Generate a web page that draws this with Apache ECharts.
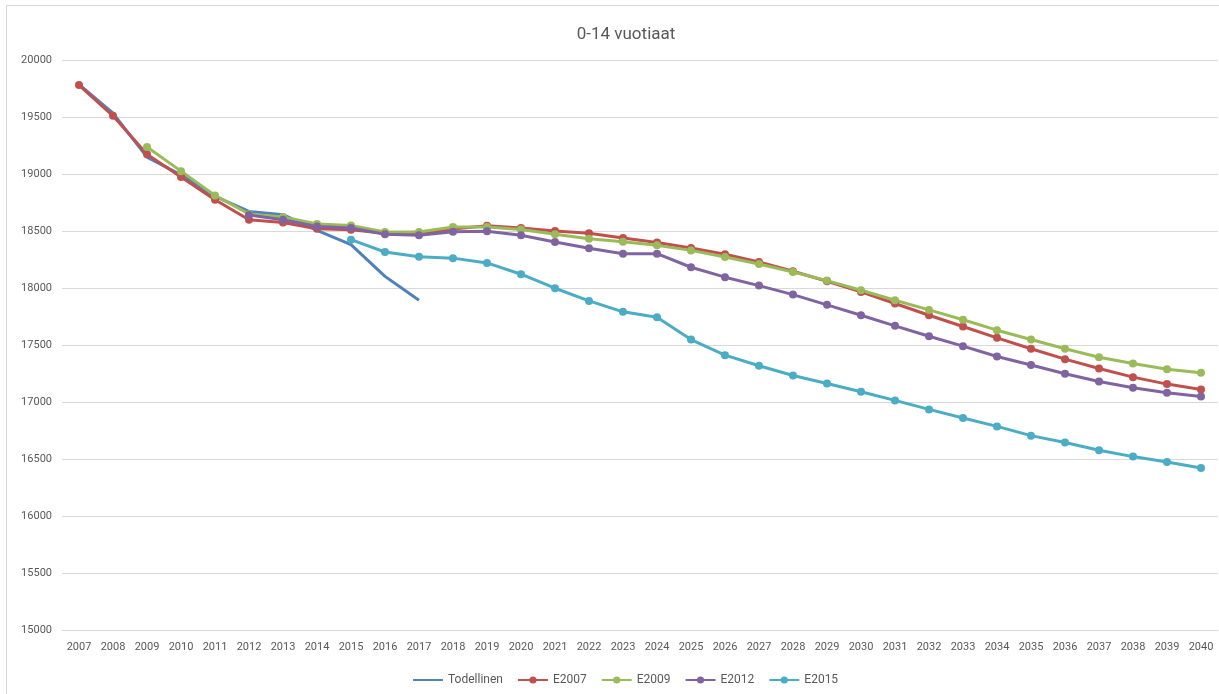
<!DOCTYPE html>
<html>
<head>
<meta charset="utf-8">
<script src="https://cdn.jsdelivr.net/npm/echarts@6/dist/echarts.min.js"></script>
<style>
  html, body { margin: 0; padding: 0; background: #fff; overflow: hidden; }
  #frame { position: absolute; left: 6px; top: 5px; width: 1240px; height: 720px; border: 1px solid #d9d9d9; }
  #chart { position: absolute; left: 0; top: 0; width: 1219px; height: 694px; }
</style>
</head>
<body>
<div id="frame"></div>
<div id="chart"></div>
<script>
const years = ['2007','2008','2009','2010','2011','2012','2013','2014','2015','2016','2017','2018','2019','2020','2021','2022','2023','2024','2025','2026','2027','2028','2029','2030','2031','2032','2033','2034','2035','2036','2037','2038','2039','2040']

const todellinen = [19787, 19533, 19148, 18993, 18803, 18672, 18643, 18505, 18380, 18102, 17892,
  null, null, null, null, null, null, null, null, null, null, null, null, null, null, null, null, null, null, null, null, null, null, null]

const e2007 = [19780, 19510, 19174, 18973, 18774, 18599, 18575, 18520, 18511, 18481, 18476,
  18517, 18546, 18526, 18499, 18480, 18439, 18400, 18351, 18296, 18229, 18147, 18059, 17966,
  17864, 17761, 17662, 17563, 17467, 17376, 17294, 17218, 17157, 17110]

const e2009 = [null, null, 19236, 19025, 18812, 18649, 18622, 18561, 18549, 18491, 18491,
  18535, 18535, 18514, 18471, 18433, 18406, 18374, 18330, 18272, 18211, 18141, 18065, 17980,
  17893, 17808, 17721, 17630, 17548, 17467, 17393, 17338, 17288, 17256]

const e2012 = [null, null, null, null, null, 18640, 18599, 18540, 18526, 18471, 18462,
  18494, 18497, 18462, 18404, 18349, 18301, 18301, 18182, 18095, 18021, 17942, 17852, 17761,
  17668, 17577, 17490, 17399, 17324, 17248, 17180, 17125, 17081, 17049]

const e2015 = [null, null, null, null, null, null, null, null, 18424, 18316, 18275,
  18262, 18220, 18121, 17998, 17887, 17791, 17744, 17548, 17411, 17318, 17233, 17163, 17090,
  17014, 16935, 16860, 16786, 16705, 16644, 16576, 16521, 16474, 16421]

const font = 'Roboto, "Open Sans", sans-serif'

function line(name, data, color, marker) {
  return {
    name, type: 'line', data,
    symbol: marker ? 'circle' : 'none', symbolSize: 8,
    lineStyle: { color, width: 3 },
    itemStyle: { color },
    connectNulls: false,
  }
}

const chart = echarts.init(document.getElementById('chart'))
chart.setOption({
  animation: false,
  backgroundColor: 'transparent',
  textStyle: { fontFamily: font },
  title: {
    text: '0-14 vuotiaat',
    left: 621, top: 21, textAlign: 'center',
    textStyle: { color: '#595959', fontSize: 17, fontWeight: 'normal', fontFamily: font },
  },
  legend: {
    data: [
      { name: 'Todellinen', itemStyle: { opacity: 0 } },
      'E2007', 'E2009', 'E2012', 'E2015',
    ],
    left: 407, top: 669,
    itemWidth: 30, itemHeight: 9, itemGap: 14,
    textStyle: { color: '#595959', fontSize: 12, fontFamily: font },
  },
  grid: { left: 62, right: 1, top: 60, bottom: 64 },
  xAxis: {
    type: 'category', data: years,
    axisLine: { lineStyle: { color: '#d9d9d9' } },
    axisTick: { show: false },
    axisLabel: { color: '#595959', fontSize: 11, margin: 12, interval: 0 },
  },
  yAxis: {
    type: 'value', min: 15000, max: 20000, interval: 500,
    axisLine: { show: false },
    axisTick: { show: false },
    axisLabel: { color: '#595959', fontSize: 11, margin: 10, formatter: v => String(v) },
    splitLine: { lineStyle: { color: '#d9d9d9' } },
  },
  series: [
    line('Todellinen', todellinen, '#4f81bd', false),
    line('E2007', e2007, '#c0504d', true),
    line('E2009', e2009, '#9bbb59', true),
    line('E2012', e2012, '#8064a2', true),
    line('E2015', e2015, '#4bacc6', true),
  ],
})
</script>
</body>
</html>
